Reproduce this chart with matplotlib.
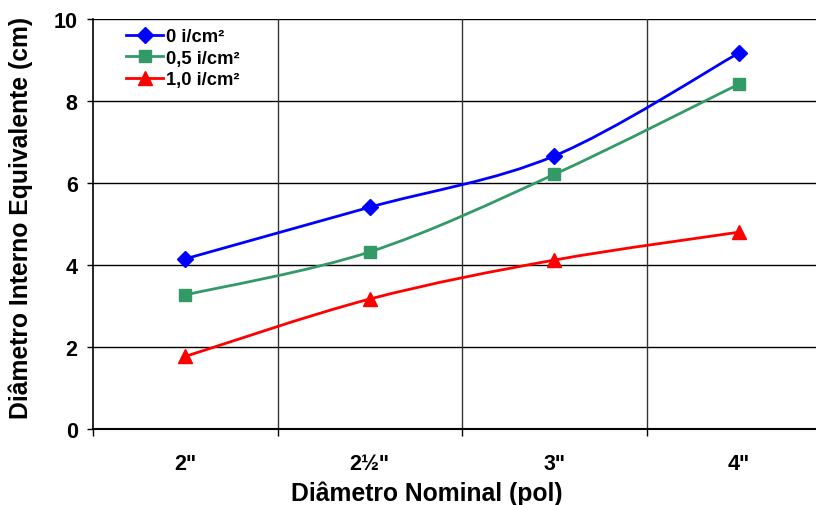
import matplotlib
matplotlib.use("Agg")
import matplotlib.pyplot as plt
from matplotlib.path import Path
from matplotlib.patches import PathPatch
from matplotlib.lines import Line2D
import numpy as np

plt.rcParams['font.family'] = ['Liberation Sans', 'DejaVu Sans']
plt.rcParams['font.weight'] = 'bold'

categories = ['2"', '2½"', '3"', '4"']
series_names = ['0 i/cm²', '0,5 i/cm²', '1,0 i/cm²']
vals_0 = [4.15, 5.41, 6.66, 9.17]
vals_05 = [3.27, 4.32, 6.21, 8.41]
vals_10 = [1.77, 3.17, 4.12, 4.80]

colors = ['#0000FF', '#339966', '#FF0000']
markers = ['D', 's', '^']
msizes = [8, 8.5, 9.5]


def smooth_path(xs, ys):
    """Cubic Bezier path through the points (Catmull-Rom style smoothing)."""
    pts = np.column_stack([xs, ys]).astype(float)
    n = len(pts)
    verts = [pts[0]]
    codes = [Path.MOVETO]
    for i in range(n - 1):
        p0 = pts[i - 1] if i > 0 else pts[i]
        p1 = pts[i]
        p2 = pts[i + 1]
        p3 = pts[i + 2] if i + 2 < n else pts[i + 1]
        c1 = p1 + (p2 - p0) / 6.0
        c2 = p2 - (p3 - p1) / 6.0
        verts += [c1, c2, p2]
        codes += [Path.CURVE4] * 3
    return Path(verts, codes)


fig = plt.figure(figsize=(8.16, 5.06), dpi=100)
W, H = 816, 506
ax = fig.add_axes([93 / W, (506 - 430) / H, (831 - 93) / W, (430 - 20) / H])

x = np.arange(1, len(categories) + 1)
ax.set_xlim(0.5, len(categories) + 0.5)
ax.set_ylim(0, 10)

# grid
for yv in [2, 4, 6, 8, 10]:
    ax.axhline(yv, color='black', lw=1.0, zorder=1)
for xv in [1.5, 2.5, 3.5]:
    ax.axvline(xv, color='#333333', lw=1.0, zorder=1)

handles = []
for vals, c, m, ms, name in zip([vals_0, vals_05, vals_10], colors, markers, msizes, series_names):
    patch = PathPatch(smooth_path(x, vals), facecolor='none', edgecolor=c, lw=2.0, zorder=3)
    ax.add_patch(patch)
    ax.plot(x, vals, linestyle='none', marker=m, markersize=ms, color=c,
            markeredgecolor=c, zorder=4)
    handles.append(Line2D([], [], color=c, lw=2.0, marker=m, markersize=ms,
                          markeredgecolor=c, label=name))

for s in ['top', 'right']:
    ax.spines[s].set_visible(False)
ax.spines['left'].set_linewidth(1.2)
ax.spines['bottom'].set_linewidth(1.5)

ax.set_yticks([0, 2, 4, 6, 8, 10])
ax.set_yticklabels(['0', '2', '4', '6', '8', '10'])
ax.tick_params(axis='y', direction='out', length=4, width=1, pad=7, labelsize=15.5)

ax.set_xticks(x)
ax.set_xticklabels(categories)
ax.set_xticks([0.5, 1.5, 2.5, 3.5, 4.5], minor=True)
ax.tick_params(axis='x', which='major', length=0, pad=17, labelsize=15.5)
ax.tick_params(axis='x', which='minor', direction='out', length=5, width=1)

fig.text(21 / W, 1 - 218 / H, 'Diâmetro Interno Equivalente (cm)', rotation=90,
         ha='center', va='center', fontsize=17.8, fontweight='bold')
fig.text(427 / W, 1 - 494 / H, 'Diâmetro Nominal (pol)', ha='center', va='center',
         fontsize=17.8, fontweight='bold')

leg = ax.legend(handles=handles, loc='upper left', bbox_to_anchor=(117 / W, 1 - 20 / H),
                bbox_transform=fig.transFigure, frameon=False, fontsize=13.2,
                handlelength=2.0, handletextpad=0.2, labelspacing=0.25, borderpad=0)

fig.savefig('out.png', dpi=100)
